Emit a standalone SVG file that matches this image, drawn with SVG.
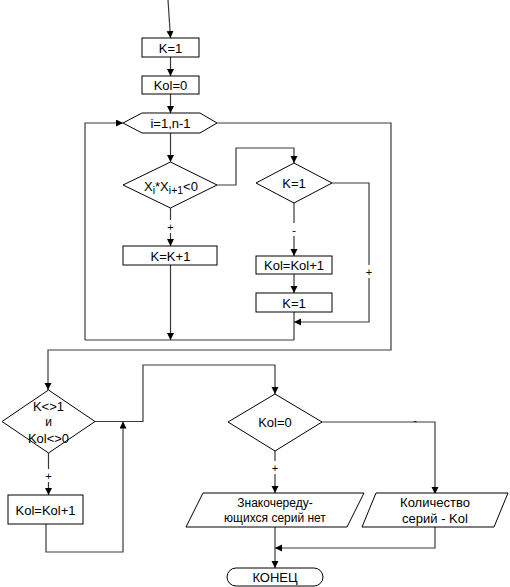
<svg xmlns="http://www.w3.org/2000/svg" width="510" height="587" viewBox="0 0 510 587">
<style>
.n{fill:#fff;stroke:#000;stroke-width:1}
.c{fill:none;stroke:#3a3a3a;stroke-width:1.2}
.t{font-family:"Liberation Sans",Arial,sans-serif;font-size:13px;fill:#000;text-anchor:middle;dominant-baseline:central}
.s{font-size:12px}
.l{font-family:"Liberation Sans",Arial,sans-serif;font-size:11px;fill:#000;text-anchor:middle;dominant-baseline:central}
</style>
<defs>
<marker id="a" markerWidth="8" markerHeight="8" refX="7" refY="3.5" orient="auto" markerUnits="userSpaceOnUse"><path d="M0,0 L7,3.5 L0,7 z" fill="#000"/></marker>
</defs>
<g id="connectors">
<path class="c" d="M168,0 L170.5,38" marker-end="url(#a)"/>
<path class="c" d="M170.5,57 V76" marker-end="url(#a)"/>
<path class="c" d="M170.5,94 V113" marker-end="url(#a)"/>
<path class="c" d="M170.5,133 V162" marker-end="url(#a)"/>
<path class="c" d="M170.5,208 V246" marker-end="url(#a)"/>
<path class="c" d="M170.5,265 V340" marker-end="url(#a)"/>
<path class="c" d="M85,340 H294"/>
<path class="c" d="M85,340 V123 H123" marker-end="url(#a)"/>
<path class="c" d="M217,185 H236 V148 H294 V163" marker-end="url(#a)"/>
<path class="c" d="M294,203 V256" marker-end="url(#a)"/>
<path class="c" d="M294,274 V293" marker-end="url(#a)"/>
<path class="c" d="M294,312 V340"/>
<path class="c" d="M332,183 H369 V322 H294" marker-end="url(#a)"/>
<path class="c" d="M217,123 H391 V350 H48 V390" marker-end="url(#a)"/>
<path class="c" d="M95,421.5 H143 V365 H275 V394" marker-end="url(#a)"/>
<path class="c" d="M48.5,453 V495" marker-end="url(#a)"/>
<path class="c" d="M46,524 V552 H123 V421.5" marker-end="url(#a)"/>
<path class="c" d="M322,422 H435 V494" marker-end="url(#a)"/>
<path class="c" d="M275,451 V493" marker-end="url(#a)"/>
<path class="c" d="M275,527 V568" marker-end="url(#a)"/>
<path class="c" d="M435,527 V548 H275" marker-end="url(#a)"/>
<rect x="165" y="220" width="11" height="13" fill="#fff"/>
<text class="l" x="170.5" y="227">+</text>
<rect x="289" y="223" width="10" height="13" fill="#fff"/>
<text class="l" x="294" y="230">-</text>
<rect x="364" y="265" width="11" height="13" fill="#fff"/>
<text class="l" x="369" y="272">+</text>
<rect x="43" y="469" width="11" height="13" fill="#fff"/>
<text class="l" x="48.5" y="476">+</text>
<rect x="270" y="461" width="11" height="13" fill="#fff"/>
<text class="l" x="275" y="468">+</text>
<text class="l" x="415" y="420">-</text>
</g>
<g id="n1"><rect class="n" x="142" y="38" width="57" height="19"/><text class="t" x="170.5" y="48">K=1</text></g>
<g id="n2"><rect class="n" x="142" y="76" width="57" height="18"/><text class="t" x="170.5" y="85.5">Kol=0</text></g>
<g id="n3"><polygon class="n" points="123,123 142,113 200,113 217,123 200,133 142,133"/><text class="t" x="170.5" y="123.5">i=1,n-1</text></g>
<g id="n4"><polygon class="n" points="123,185 170.5,162 217,185 170.5,208"/><text class="t" x="171" y="186">X<tspan font-size="10.5" dy="3.5">i</tspan><tspan dy="-3.5">*X</tspan><tspan font-size="10.5" dy="3.5">i+1</tspan><tspan dy="-3.5">&lt;0</tspan></text></g>
<g id="n5"><polygon class="n" points="256,183 294,163 332,183 294,203"/><text class="t" x="294" y="183.5">K=1</text></g>
<g id="n6"><rect class="n" x="123" y="246" width="94" height="19"/><text class="t" x="170.5" y="256">K=K+1</text></g>
<g id="n7"><rect class="n" x="256" y="256" width="76" height="18"/><text class="t" x="294" y="265.5">Kol=Kol+1</text></g>
<g id="n8"><rect class="n" x="256" y="293" width="76" height="19"/><text class="t" x="294" y="303">K=1</text></g>
<g id="n9"><polygon class="n" points="2,421.5 48.5,390 95,421.5 48.5,453"/><text class="t" x="48.5" y="406">K&lt;&gt;1</text><text class="t s" x="48.5" y="422">и</text><text class="t" x="48.5" y="438">Kol&lt;&gt;0</text></g>
<g id="n10"><rect class="n" x="8" y="495" width="75" height="29"/><text class="t" x="45.5" y="510">Kol=Kol+1</text></g>
<g id="n11"><polygon class="n" points="228,422 275,394 322,422 275,451"/><text class="t" x="275" y="422">Kol=0</text></g>
<g id="n12"><polygon class="n" points="203,493 364,493 347,527 186,527"/><text class="t s" x="275" y="503">Знакочереду-</text><text class="t s" x="275" y="518">ющихся серий нет</text></g>
<g id="n13"><polygon class="n" points="376,493 508,493 494,527 362,527"/><text class="t" x="435" y="502">Количество</text><text class="t" x="435" y="518">серий - Kol</text></g>
<g id="n14"><rect class="n" x="227" y="568" width="96" height="18" rx="9" ry="9"/><text class="t" x="275" y="577.5">КОНЕЦ</text></g>
</svg>
